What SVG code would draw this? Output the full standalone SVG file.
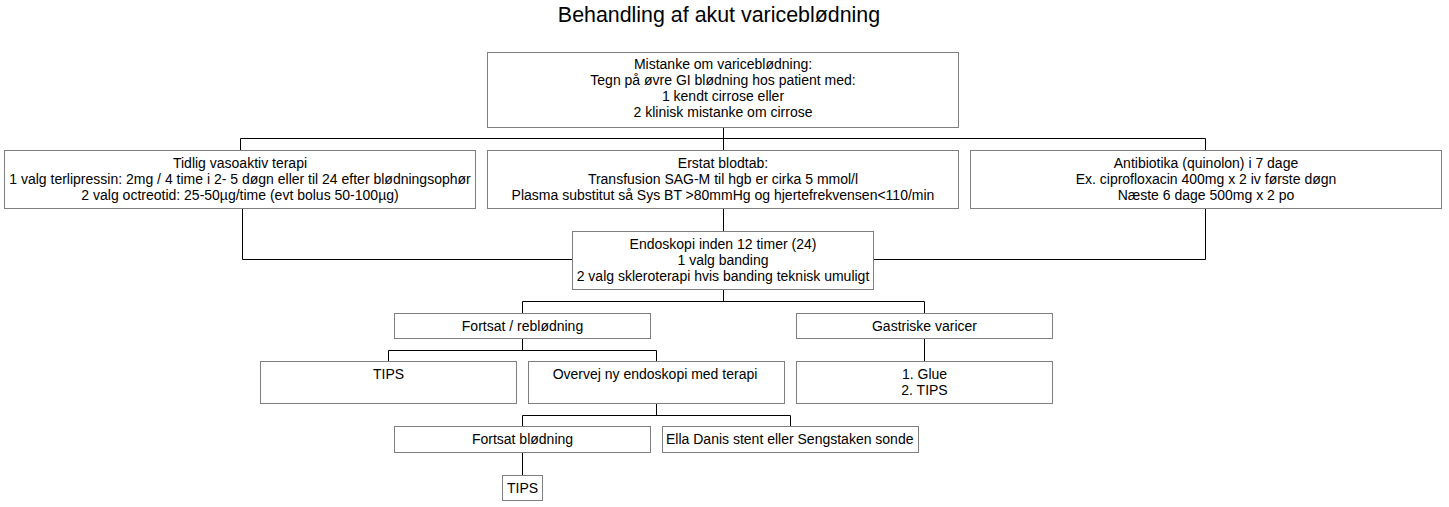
<svg xmlns="http://www.w3.org/2000/svg" width="1449" height="507" viewBox="0 0 1449 507">
<style>
.box{fill:#ffffff;stroke:#808080;stroke-width:1}
.t{font-family:"Liberation Sans",Arial,sans-serif;font-size:14px;fill:#000000;text-anchor:middle}
.l{text-anchor:start}
.title{font-family:"Liberation Sans",Arial,sans-serif;font-size:21.4px;fill:#000000;text-anchor:middle}
.c{fill:none;stroke:#000000;stroke-width:1}
</style>
<rect width="1449" height="507" fill="#ffffff"/>
<text class="title" x="719" y="22">Behandling af akut variceblødning</text>
<g id="connectors">
<path class="c" d="M723.5 127.5 V150.5 M240.5 150.5 V138.5 H1205.5 V150.5"/>
<path class="c" d="M242.5 208.5 V259.5 H572.5 M723.5 208.5 V231.5 M1205.5 208.5 V259.5 H873.5"/>
<path class="c" d="M723.5 289.5 V301.5 M522.5 313.5 V301.5 H924.5 V313.5"/>
<path class="c" d="M522.5 338.5 V350.5 M388.5 361.5 V350.5 H656.5 V361.5 M924.5 338.5 V361.5"/>
<path class="c" d="M656.5 403.5 V415.5 M522.5 426.5 V415.5 H790.5 V426.5"/>
<path class="c" d="M522.5 452.5 V475.5"/>
</g>
<g id="n_mistanke">
<rect class="box" x="487.5" y="52.5" width="471" height="75"/>
<text class="t" x="723" y="68.5">Mistanke om variceblødning:</text>
<text class="t" x="723" y="84.5">Tegn på øvre GI blødning hos patient med:</text>
<text class="t" x="723" y="100.5">1 kendt cirrose eller</text>
<text class="t" x="723" y="116.5">2 klinisk mistanke om cirrose</text>
</g>
<g id="n_vasoaktiv">
<rect class="box" x="4.5" y="150.5" width="471" height="58"/>
<text class="t" x="240" y="167.5">Tidlig vasoaktiv terapi</text>
<text class="t" x="240" y="183.5">1 valg terlipressin: 2mg / 4 time i 2- 5 døgn eller til 24 efter blødningsophør</text>
<text class="t" x="240" y="199.5">2 valg octreotid: 25-50µg/time (evt bolus 50-100µg)</text>
</g>
<g id="n_blodtab">
<rect class="box" x="487.5" y="150.5" width="471" height="58"/>
<text class="t" x="723" y="167.5">Erstat blodtab:</text>
<text class="t" x="723" y="183.5">Transfusion SAG-M til hgb er cirka 5 mmol/l</text>
<text class="t" x="723" y="199.5">Plasma substitut så Sys BT &gt;80mmHg og hjertefrekvensen&lt;110/min</text>
</g>
<g id="n_antibiotika">
<rect class="box" x="970.5" y="150.5" width="471" height="58"/>
<text class="t" x="1206" y="167.5">Antibiotika (quinolon) i 7 dage</text>
<text class="t" x="1206" y="183.5">Ex. ciprofloxacin 400mg x 2 iv første døgn</text>
<text class="t" x="1206" y="199.5">Næste 6 dage 500mg x 2 po</text>
</g>
<g id="n_endoskopi">
<rect class="box" x="572.5" y="231.5" width="301" height="58"/>
<text class="t" x="723" y="248.5">Endoskopi inden 12 timer (24)</text>
<text class="t" x="723" y="264.5">1 valg banding</text>
<text class="t" x="723" y="280.5">2 valg skleroterapi hvis banding teknisk umuligt</text>
</g>
<g id="n_fortsat">
<rect class="box" x="394.5" y="313.5" width="256" height="25"/>
<text class="t" x="522.5" y="330.5">Fortsat / reblødning</text>
</g>
<g id="n_gastriske">
<rect class="box" x="796.5" y="313.5" width="256" height="25"/>
<text class="t" x="924.5" y="330.5">Gastriske varicer</text>
</g>
<g id="n_tips1">
<rect class="box" x="260.5" y="361.5" width="256" height="42"/>
<text class="t" x="388.5" y="378.5">TIPS</text>
</g>
<g id="n_overvej">
<rect class="box" x="528.5" y="361.5" width="256" height="42"/>
<text class="t" x="655" y="378.5">Overvej ny endoskopi med terapi</text>
</g>
<g id="n_glue">
<rect class="box" x="796.5" y="361.5" width="256" height="42"/>
<text class="t" x="924.5" y="378.5">1. Glue</text>
<text class="t" x="924.5" y="395">2. TIPS</text>
</g>
<g id="n_fortsat_blodning">
<rect class="box" x="394.5" y="426.5" width="256" height="26"/>
<text class="t" x="522.5" y="443.5">Fortsat blødning</text>
</g>
<g id="n_ella">
<rect class="box" x="662.5" y="426.5" width="256" height="26"/>
<text class="t l" x="666" y="443.5">Ella Danis stent eller Sengstaken sonde</text>
</g>
<g id="n_tips2">
<rect class="box" x="502.5" y="475.5" width="40" height="25"/>
<text class="t" x="522.5" y="492.5">TIPS</text>
</g>
</svg>
